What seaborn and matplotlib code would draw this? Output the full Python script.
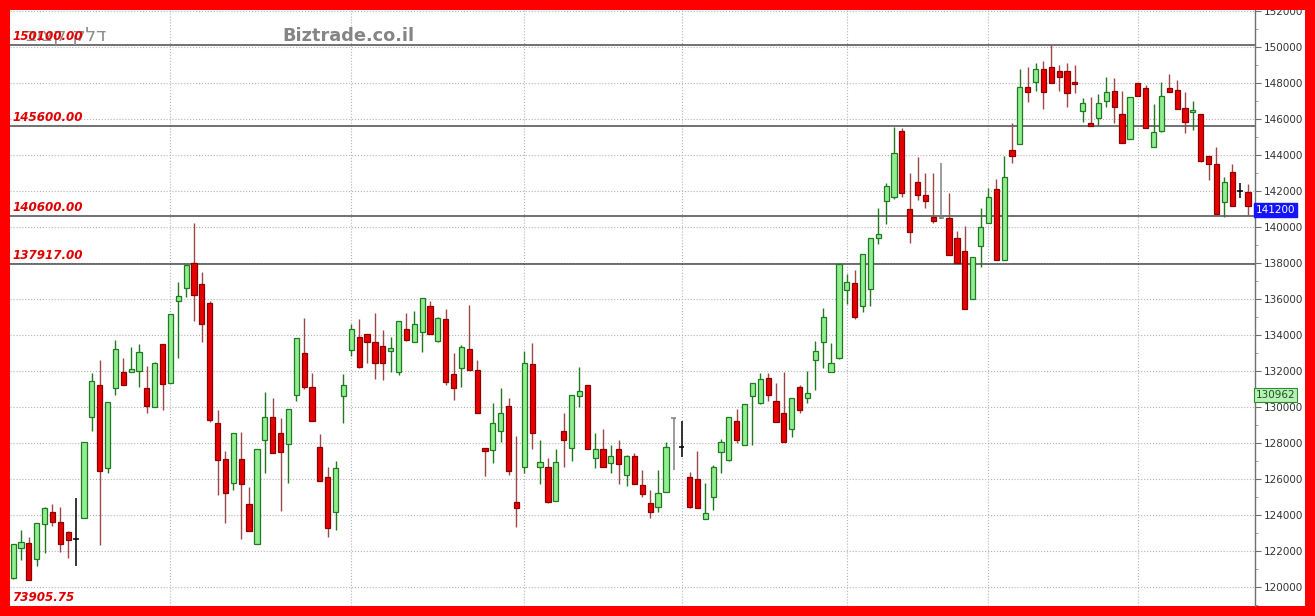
import matplotlib
matplotlib.use("Agg")
import matplotlib.pyplot as plt
import matplotlib.transforms as mtransforms
from matplotlib.patches import Rectangle
from matplotlib.ticker import MultipleLocator
import numpy as np
import pandas as pd
import seaborn as sns

# daily candles
opens = [120480, 122150, 122460, 121540, 123500, 124150, 123630, 123040, 122670, 123810,
         129430, 131220, 126590, 131040, 131930, 131960, 132020, 131040, 130020, 133480,
         131350, 135890, 136590, 138020, 136810, 135760, 129130, 127090, 125800, 127090,
         124610, 122420, 128170, 129430, 128570, 127940, 130670, 133020, 131130, 127760,
         126090, 124190, 130610, 133170, 133910, 134040, 133630, 133410, 133110, 131960,
         134320, 133630, 134150, 135610, 133670, 134890, 131820, 132150, 133200, 132060,
         127740, 127610, 128690, 130060, 124700, 126690, 132370, 126690, 126690, 124800,
         128690, 127700, 130610, 131220, 127150, 127650, 126870, 127670, 126220, 127300,
         125670, 124690, 124460, 125260, 129370, 127760, 126090, 125980, 123760, 125020,
         127520, 127060, 129240, 127890, 130610, 130240, 131630, 130350, 129650, 128780,
         131130, 130480, 132610, 133630, 131930, 132700, 136500, 136910, 135610, 136540,
         139370, 141460, 141650, 145350, 140980, 142520, 141780, 140540, 140480, 140480,
         139410, 138690, 135980, 138940, 140200, 142090, 138170, 144280, 144590, 147800,
         148040, 148760, 148870, 148670, 148670, 148040, 146460, 145760, 146070, 147000,
         147570, 146260, 144890, 148020, 147700, 144430, 145330, 147700, 147610, 146590,
         146370, 146280, 143960, 143480, 141370, 143070, 142000, 141960]
highs = [122400, 123170, 122800, 123540, 124460, 124610, 124430, 123130, 124930, 128070,
         131910, 132610, 130280, 133720, 132740, 133350, 133500, 132300, 132520, 133480,
         135150, 136960, 137870, 140200, 137480, 135890, 129830, 127570, 128570, 128630,
         125540, 127650, 130810, 130520, 129370, 129870, 133810, 134930, 131910, 128480,
         126680, 127000, 131830, 134610, 134890, 134040, 135200, 134280, 133910, 134800,
         135200, 135330, 136040, 135890, 135020, 135430, 133020, 133450, 135670, 132610,
         127740, 130240, 131040, 130480, 128390, 133130, 133540, 128170, 127150, 127650,
         129690, 130670, 132200, 131220, 128540, 128780, 127890, 128170, 127330, 127430,
         126500, 125390, 126500, 128070, 129370, 129240, 126370, 127570, 125760, 126780,
         128200, 129430, 129870, 130150, 131320, 131910, 131870, 131350, 131930, 130480,
         131220, 132020, 133670, 135480, 133540, 137930, 137390, 137610, 138480, 139410,
         141040, 142460, 145540, 145480, 142980, 143870, 142980, 142980, 143570, 141870,
         139780, 140060, 138350, 141070, 142150, 142650, 143940, 145760, 148760, 148870,
         149090, 149190, 150110, 149000, 149090, 149000, 147150, 147240, 147370, 148350,
         148260, 147560, 147200, 148020, 147890, 146820, 148070, 148500, 148170, 147520,
         147000, 146280, 143960, 144430, 142800, 143480, 142460, 142370]
lows = [120450, 121500, 120390, 121170, 121870, 123390, 121960, 121590, 121180, 123810,
        128670, 122330, 126350, 130670, 131220, 131960, 131090, 129650, 130020, 129830,
        131350, 132700, 136130, 134800, 133630, 129180, 125110, 123540, 125390, 122650,
        123110, 122370, 126350, 127430, 124240, 125800, 130330, 130980, 129240, 125890,
        122800, 123170, 129090, 132830, 132150, 132430, 131540, 131500, 131960, 131780,
        133670, 133630, 133070, 134040, 133630, 131220, 130390, 131130, 132060, 129650,
        126170, 126870, 128070, 126220, 123320, 126320, 127650, 125720, 124690, 124800,
        126690, 127020, 130020, 127650, 126590, 126690, 126350, 125720, 125610, 125720,
        124980, 123820, 124190, 125260, 126500, 127200, 124370, 124370, 123760, 124280,
        126320, 126990, 128020, 127890, 127890, 130170, 130350, 129190, 128070, 128350,
        129650, 130240, 130940, 132150, 131930, 132650, 135720, 134890, 135300, 135610,
        139060, 140170, 141540, 141650, 139090, 141500, 141070, 140200, 140430, 138440,
        137980, 135440, 135980, 137760, 140200, 138170, 138170, 143570, 144590, 146960,
        147560, 146560, 147980, 147570, 146650, 147430, 145850, 145630, 145670, 146680,
        145760, 144680, 144890, 147280, 145480, 144430, 145300, 147480, 146560, 145200,
        145390, 143630, 142610, 140720, 140570, 141190, 141590, 140670]
closes = [122370, 122480, 120390, 123540, 124370, 123630, 122370, 122610, 122670, 128070,
          131440, 126460, 130280, 133220, 131220, 132090, 133040, 130060, 132430, 131280,
          135150, 136170, 137870, 136220, 134590, 129280, 127050, 125200, 128570, 125700,
          123110, 127650, 129430, 127430, 127480, 129870, 133810, 131130, 129240, 125890,
          123260, 126590, 131220, 134330, 132240, 133630, 132460, 132460, 133300, 134800,
          133720, 134590, 136040, 134040, 134930, 131410, 131040, 133320, 132060, 129650,
          127560, 129090, 129650, 126460, 124370, 132460, 128570, 126960, 124740, 126960,
          128170, 130670, 130910, 127650, 127650, 126690, 127300, 126830, 127300, 125720,
          125150, 124190, 125200, 127760, 129370, 127760, 124460, 124370, 124090, 126690,
          128070, 129430, 128170, 130150, 131320, 131540, 130670, 129190, 128070, 130480,
          129830, 130760, 133130, 134980, 132430, 137930, 136960, 134980, 138480, 139410,
          139590, 142300, 144090, 141910, 139740, 141780, 141460, 140350, 140480, 138440,
          137980, 135440, 138350, 140020, 141680, 138170, 142760, 143960, 147800, 147480,
          148760, 147520, 147980, 148350, 147430, 147930, 146870, 145630, 146870, 147480,
          146680, 144680, 147200, 147280, 145480, 145260, 147280, 147480, 146560, 145850,
          146500, 143670, 143480, 140720, 142480, 141190, 142000, 141190]
gray_doji = [85, 119]          # candle numbers (1-based) drawn in grey
month_starts = [20, 43, 65, 85, 106, 124, 143]
levels = [150100.00, 145600.00, 140600.00, 137917.00]
low_label = "73905.75"
last_price = 141200
ref_price = 130962

df = pd.DataFrame({"open": opens, "high": highs, "low": lows, "close": closes})
df["x"] = np.arange(len(df))

sns.set_theme(style="white")
plt.rcParams["font.family"] = ["DejaVu Sans"]

W, H = 1315, 616
fig = plt.figure(figsize=(W / 100, H / 100), dpi=100, facecolor="#ff0000")
ax = fig.add_axes([10 / W, 10 / H, 1245 / W, 596 / H])
ax.set_facecolor("white")
fig.patches.append(Rectangle((1255 / W, 10 / H), 50 / W, 596 / H, transform=fig.transFigure,
                             facecolor="white", edgecolor="none", zorder=-1))
fig.patches.append(Rectangle((0, 1 - 10 / H), 1, 10 / H, transform=fig.transFigure,
                             facecolor="#ff0000", edgecolor="none", zorder=10))

bw = 0.66
up = df[df.close > df.open]
down = df[df.close < df.open]
flat = df[df.close == df.open]

ax.vlines(up.x, up.low, up.high, color="#217a21", lw=1, zorder=3)
ax.bar(up.x, up.close - up.open, bottom=up.open, width=bw, color="#90ee90",
       edgecolor="#217a21", linewidth=0.9, zorder=4)
ax.vlines(down.x, down.low, down.high, color="#9a4848", lw=1, zorder=3)
ax.bar(down.x, down.open - down.close, bottom=down.close, width=bw, color="#e80000",
       edgecolor="#8b0000", linewidth=0.9, zorder=4)
for _, r in flat.iterrows():
    c = "#808080" if (r.x + 1) in gray_doji else "black"
    ax.vlines(r.x, r.low, r.high, color=c, lw=1.1, zorder=3)
    ax.hlines(r.open, r.x - bw / 2, r.x + bw / 2, color=c, lw=1.1, zorder=3)

# watermark / titles (drawn under the level labels)
ax.text(0.077, 0.957, "בוצק קלד", transform=ax.transAxes, ha="right", va="center",
        color="#8c8c8c", fontsize=13.5, zorder=5)
ax.text(0.219, 0.956, "Biztrade.co.il", transform=ax.transAxes, ha="left", va="center",
        color="#858585", fontsize=12.8, fontweight="bold", zorder=5)

# support / resistance levels
trans = mtransforms.blended_transform_factory(ax.transAxes, ax.transData)
for v in levels:
    ax.axhline(v, color="#4a4a4a", lw=1.1, zorder=2)
    ax.annotate(f"{v:.2f}", xy=(0, v), xycoords=trans, xytext=(1.5, 1.5),
                textcoords="offset points", ha="left", va="bottom", color="#e00000",
                fontsize=8.6, fontstyle="italic", fontweight="bold", zorder=6)
ax.text(0.002, 0.004, low_label, transform=ax.transAxes, ha="left", va="bottom",
        color="#e00000", fontsize=8.6, fontstyle="italic", fontweight="bold")

# price tags on the axis
ax.text(1.0008, last_price, str(last_price), transform=trans, ha="left", va="top",
        color="white", fontsize=7.5, zorder=7, clip_on=False,
        bbox=dict(boxstyle="square,pad=0.18", fc="#1414ff", ec="#1414ff"))
ax.text(1.0008, ref_price, str(ref_price), transform=trans, ha="left", va="top",
        color="#1c4f1c", fontsize=7.5, zorder=7, clip_on=False,
        bbox=dict(boxstyle="square,pad=0.18", fc="#b6f2b6", ec="#2e8b2e", lw=0.8))

ax.set_xlim(-0.4, len(df) - 0.1)
ax.set_ylim(118950, 152050)
ax.set_xticks(month_starts)
ax.set_yticks(np.arange(120000, 152001, 2000))
ax.yaxis.set_minor_locator(MultipleLocator(1000))
ax.yaxis.tick_right()
ax.tick_params(axis="x", length=0, labelbottom=False)
ax.tick_params(axis="y", which="major", length=4, width=0.8, color="#707070",
               labelsize=7.5, labelcolor="#333333", pad=2)
ax.tick_params(axis="y", which="minor", length=2, width=0.6, color="#909090", right=True)
ax.grid(True, which="major", linestyle=":", color="#b4b4b4", lw=0.8, zorder=0)
ax.set_axisbelow(True)
for s in ["top", "left", "bottom"]:
    ax.spines[s].set_visible(False)
ax.spines["right"].set_color("#707070")
ax.spines["right"].set_linewidth(1)

fig.savefig("out.png", dpi=100, facecolor=fig.get_facecolor())
